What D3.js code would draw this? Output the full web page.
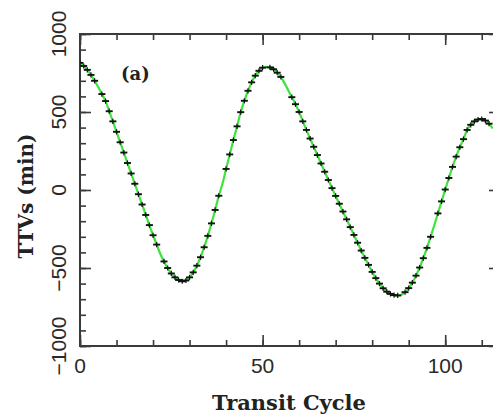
<!DOCTYPE html>
<html>
<head>
<meta charset="utf-8">
<script src="https://cdn.jsdelivr.net/npm/d3@7"></script>
<style>
  html, body { margin: 0; padding: 0; background: #fff; }
  svg { display: block; }
</style>
</head>
<body>
<svg id="chart" width="493" height="417"></svg>
<script>
// Transit timing variations (minutes), one value per transit cycle 0..113
const ttvModel = [
  815, 795, 770, 738, 700, 660, 615, 570, 505, 440,
  373, 306, 240, 173, 106, 40, -27, -93, -160, -225,
  -290, -350, -410, -458, -500, -535, -560, -577, -585, -580,
  -560, -528, -485, -431, -367, -294, -214, -128, -37, 40,
  135, 228, 320, 408, 499, 572, 636, 690, 733, 764,
  784, 790, 786, 774, 752, 725, 685, 640, 595, 550,
  500, 440, 385, 330, 277, 224, 170, 117, 64, 12,
  -38, -88, -138, -188, -238, -288, -338, -388, -435, -480,
  -525, -565, -600, -630, -652, -666, -674, -676, -671, -655,
  -629, -594, -549, -497, -437, -371, -300, -226, -150, -73,
  3, 77, 148, 214, 274, 326, 385, 418, 440, 452,
  455, 445, 425, 395
];

// Cycles with a measured transit time (plotted as error-bar markers)
const observedCycles = [
  0, 1, 2, 3, 4, 6, 7, 8, 9, 10, 11, 12, 13, 14, 15, 16, 17, 18, 19, 20,
  21, 23, 24, 25, 26, 27, 28, 29, 30, 31, 32, 33, 34, 35, 36, 37, 38, 40,
  41, 42, 43, 44, 45, 46, 47, 48, 49, 50, 52, 53, 54, 55, 58, 59, 60,
  61, 62, 63, 64, 65, 66, 67, 68, 69, 70, 71, 72, 73, 74, 75, 76, 77, 78,
  79, 80, 81, 82, 83, 84, 85, 86, 87, 89, 90, 91, 92, 93, 94, 95, 96, 98,
  99, 100, 101, 102, 103, 104, 105, 106, 107, 108, 109, 110, 111, 112
];

const xMajorTicks = [0, 50, 100];
const xMinorTicks = [0, 10, 20, 30, 40, 50, 60, 70, 80, 90, 100, 110];
const yMajorTicks = [-1000, -500, 0, 500, 1000];
const yMinorTicks = d3.range(-1000, 1001, 100);
const xTickLabels = ["0", "50", "100"];
const yTickLabels = ["\u22121000", "\u2212500", "0", "500", "1000"];

const svg = d3.select("#chart");
const plotL = 80, plotR = 500, plotT = 34, plotB = 346;

const x = d3.scaleLinear().domain([0, 115]).range([plotL, plotR]);
const y = d3.scaleLinear().domain([-1000, 1000]).range([plotB, plotT]);

const axisColor = "#3a3a3a";

// Ticks on all four sides, pointing into the plot
function styleAxis(g) {
  g.select(".domain").remove();
  g.selectAll(".tick line").attr("stroke", axisColor).attr("stroke-width", 1.6);
  g.selectAll(".tick text").remove();
}
const axes = svg.append("g");
axes.append("g").attr("transform", `translate(0,${plotB})`)
  .call(d3.axisBottom(x).tickValues(xMinorTicks).tickSize(-6)).call(styleAxis);
axes.append("g").attr("transform", `translate(0,${plotB})`)
  .call(d3.axisBottom(x).tickValues(xMajorTicks).tickSize(-11)).call(styleAxis);
axes.append("g").attr("transform", `translate(0,${plotT})`)
  .call(d3.axisTop(x).tickValues(xMinorTicks).tickSize(-6)).call(styleAxis);
axes.append("g").attr("transform", `translate(0,${plotT})`)
  .call(d3.axisTop(x).tickValues(xMajorTicks).tickSize(-11)).call(styleAxis);
axes.append("g").attr("transform", `translate(${plotL},0)`)
  .call(d3.axisLeft(y).tickValues(yMinorTicks).tickSize(-6)).call(styleAxis);
axes.append("g").attr("transform", `translate(${plotL},0)`)
  .call(d3.axisLeft(y).tickValues(yMajorTicks).tickSize(-11)).call(styleAxis);
axes.append("g").attr("transform", `translate(${plotR},0)`)
  .call(d3.axisRight(y).tickValues(yMinorTicks).tickSize(-6)).call(styleAxis);
axes.append("g").attr("transform", `translate(${plotR},0)`)
  .call(d3.axisRight(y).tickValues(yMajorTicks).tickSize(-11)).call(styleAxis);

// Frame
svg.append("rect")
  .attr("x", plotL).attr("y", plotT)
  .attr("width", plotR - plotL).attr("height", plotB - plotT)
  .attr("fill", "none").attr("stroke", axisColor).attr("stroke-width", 2);

// Clip for data
svg.append("clipPath").attr("id", "plotClip")
  .append("rect").attr("x", plotL).attr("y", plotT)
  .attr("width", plotR - plotL).attr("height", plotB - plotT);

const plot = svg.append("g").attr("clip-path", "url(#plotClip)");

// Model curve
const line = d3.line()
  .x((d, i) => x(i))
  .y(d => y(d))
  .curve(d3.curveCatmullRom);
plot.append("path")
  .datum(ttvModel)
  .attr("d", line)
  .attr("fill", "none")
  .attr("stroke", "#3ee43e")
  .attr("stroke-width", 2.2);

// Measured transits with error bars
const marks = plot.selectAll("g.obs").data(observedCycles).join("g").attr("class", "obs")
  .attr("transform", c => `translate(${x(c)},${y(ttvModel[c])})`);
marks.append("line").attr("x1", -3.5).attr("x2", 3.5).attr("y1", 0).attr("y2", 0)
  .attr("stroke", "#111").attr("stroke-width", 1.9);
marks.append("line").attr("x1", 0).attr("x2", 0).attr("y1", -2.6).attr("y2", 2.6)
  .attr("stroke", "#111").attr("stroke-width", 1.2);

// Tick labels
const tickFont = "'Liberation Sans', Arial, sans-serif";
svg.append("g").selectAll("text").data(xMajorTicks).join("text")
  .attr("x", d => x(d)).attr("y", 373)
  .attr("text-anchor", "middle")
  .attr("font-family", tickFont).attr("font-size", 21).attr("fill", "#2a2a2a")
  .text((d, i) => xTickLabels[i]);
svg.append("g").selectAll("text").data(yMajorTicks).join("text")
  .attr("transform", d => `translate(66,${y(d)}) rotate(-90)`)
  .attr("text-anchor", "middle")
  .attr("font-family", tickFont).attr("font-size", 21).attr("fill", "#2a2a2a")
  .text((d, i) => yTickLabels[i]);

// Axis titles and panel label
const titleFont = "'DejaVu Serif', serif";
svg.append("text")
  .attr("x", 289).attr("y", 410)
  .attr("text-anchor", "middle")
  .attr("font-family", titleFont).attr("font-weight", "bold").attr("font-size", 21)
  .attr("fill", "#222")
  .text("Transit Cycle");
svg.append("text")
  .attr("transform", "translate(33,196) rotate(-90)")
  .attr("text-anchor", "middle")
  .attr("font-family", titleFont).attr("font-weight", "bold").attr("font-size", 20)
  .attr("fill", "#222")
  .text("TTVs (min)");
svg.append("text")
  .attr("x", 121).attr("y", 80)
  .attr("font-family", titleFont).attr("font-weight", "bold").attr("font-size", 18)
  .attr("fill", "#222")
  .text("(a)");
</script>
</body>
</html>
